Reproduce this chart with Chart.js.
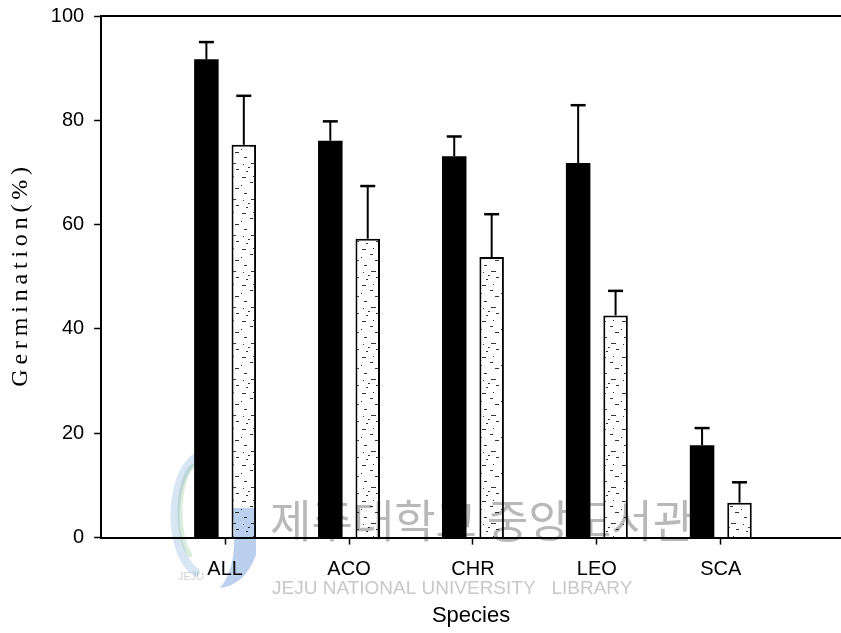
<!DOCTYPE html>
<html>
<head>
<meta charset="utf-8">
<script src="https://cdn.jsdelivr.net/npm/chart.js@4.4.0/dist/chart.umd.min.js"></script>
<style>
  html, body { margin: 0; padding: 0; background: #fff; overflow: hidden; }
  #wrap { width: 841px; height: 633px; position: relative; overflow: hidden; }
  #myChart { position: absolute; left: 0; top: -6px; }
</style>
</head>
<body>
<div id="wrap"><canvas id="myChart" width="841" height="645"></canvas></div>
<script>
// data
const species = ["ALL", "ACO", "CHR", "LEO", "SCA"];
const positions = [1, 2, 3, 4, 5];
const blackMeans = [91.7, 76.1, 73.1, 71.8, 17.7];
const blackErrors = [3.3, 3.7, 3.8, 11.1, 3.3];
const whiteMeans = [75.3, 57.3, 53.8, 42.6, 6.7];
const whiteErrors = [9.4, 10.1, 8.2, 4.7, 3.9];
const yTicks = [0, 20, 40, 60, 80, 100];

const canvas = document.getElementById("myChart");
const ctx = canvas.getContext("2d");

Chart.defaults.font.family = "'Liberation Sans', Arial, sans-serif";
Chart.defaults.color = "#000";

// dotted fill used for the open bars
function makePattern() {
  const c = document.createElement("canvas");
  c.width = 20; c.height = 36;
  const g = c.getContext("2d");
  g.fillStyle = "#fff";
  g.fillRect(0, 0, 20, 36);
  g.fillStyle = "#333";
  const dashes = [[2, 3, 4], [10, 8, 3], [15, 14, 4], [4, 19, 3], [11, 25, 5], [16, 31, 3], [6, 33, 2], [1, 11, 1], [8, 29, 2], [13, 2, 1], [3, 26, 1]];
  dashes.forEach(d => g.fillRect(d[0], d[1], d[2], 1));
  return g.createPattern(c, "repeat");
}

const errorBars = {
  id: "errorBars",
  afterDatasetsDraw(chart) {
    const c = chart.ctx;
    const y = chart.scales.y;
    c.save();
    c.strokeStyle = "#000";
    chart.data.datasets.forEach((ds, di) => {
      const meta = chart.getDatasetMeta(di);
      meta.data.forEach((bar, i) => {
        const top = y.getPixelForValue(ds.data[i].y + ds.errors[i]);
        c.lineWidth = 2;
        c.beginPath();
        c.moveTo(bar.x, bar.y);
        c.lineTo(bar.x, top);
        c.stroke();
        c.lineWidth = 2.5;
        c.beginPath();
        c.moveTo(bar.x - 7.5, top);
        c.lineTo(bar.x + 7.5, top);
        c.stroke();
      });
    });
    c.restore();
  }
};

const topFrame = {
  id: "topFrame",
  afterDraw(chart) {
    const a = chart.chartArea;
    const c = chart.ctx;
    c.save();
    c.strokeStyle = "#000";
    c.lineWidth = 2;
    c.beginPath();
    c.moveTo(a.left, a.top);
    c.lineTo(chart.width, a.top);
    c.stroke();
    c.restore();
  }
};

// library stamp over the picture (page coords, canvas is shifted up 6px)
const watermark = {
  id: "watermark",
  afterDraw(chart) {
    const c = chart.ctx;
    c.save();
    c.translate(0, 6);
    c.globalCompositeOperation = "multiply";
    c.lineCap = "round";
    c.strokeStyle = "rgba(200,220,240,0.7)";
    c.lineWidth = 9;
    c.beginPath();
    c.ellipse(205, 515, 30, 60, 0, Math.PI * 0.6, Math.PI * 1.45);
    c.stroke();
    c.strokeStyle = "rgba(205,230,210,0.7)";
    c.lineWidth = 5;
    c.beginPath();
    c.ellipse(198, 512, 18, 48, 0, Math.PI * 0.65, Math.PI * 1.4);
    c.stroke();
    c.fillStyle = "rgba(175,200,235,0.85)";
    c.beginPath();
    c.moveTo(232, 508);
    c.lineTo(256, 508);
    c.lineTo(256, 555);
    c.quadraticCurveTo(245, 585, 220, 588);
    c.quadraticCurveTo(240, 565, 232, 508);
    c.fill();
    c.fillStyle = "#d2d2d2";
    c.font = "11px 'Liberation Sans'";
    c.fillText("JEJU", 178, 580);
    c.fillStyle = "#b8b8b8";
    c.font = "45px 'Noto Sans CJK KR'";
    c.textBaseline = "alphabetic";
    c.fillText("제주대학교 중앙도서관", 270, 538);
    c.fillStyle = "#c8c8c8";
    c.font = "19px 'Liberation Sans'";
    c.fillText("JEJU NATIONAL UNIVERSITY   LIBRARY", 272, 594);
    c.restore();
  }
};

const pattern = makePattern();

const myChart = new Chart(ctx, {
  type: "bar",
  data: {
    datasets: [
      {
        label: "Black",
        data: positions.map((x, i) => ({ x: x, y: blackMeans[i] })),
        errors: blackErrors,
        backgroundColor: "#000",
        borderColor: "#000",
        borderWidth: 0,
        categoryPercentage: 0.604,
        barPercentage: 0.655
      },
      {
        label: "White",
        data: positions.map((x, i) => ({ x: x, y: whiteMeans[i] })),
        errors: whiteErrors,
        backgroundColor: pattern,
        borderColor: "#000",
        borderWidth: 2,
        borderSkipped: "bottom",
        categoryPercentage: 0.604,
        barPercentage: 0.655
      }
    ]
  },
  options: {
    responsive: false,
    animation: false,
    layout: { padding: { top: 0, right: 0, left: 0, bottom: 0 } },
    plugins: {
      legend: { display: false },
      tooltip: { enabled: false }
    },
    scales: {
      x: {
        type: "linear",
        min: 0,
        max: 5.97,
        offset: false,
        afterBuildTicks: s => { s.ticks = positions.map(v => ({ value: v })); },
        ticks: {
          autoSkip: false,
          maxRotation: 0,
          padding: 13,
          font: { size: 20 },
          callback: v => species[v - 1] || ""
        },
        grid: { display: true, offset: false, drawOnChartArea: false, tickLength: 7, tickWidth: 1.5, tickColor: "#000" },
        border: { display: true, color: "#000", width: 2 },
        title: { display: true, text: "Species", font: { size: 22 }, padding: { top: 8, bottom: 10 } }
      },
      y: {
        min: 0,
        max: 100,
        afterBuildTicks: s => { s.ticks = yTicks.map(v => ({ value: v })); },
        ticks: { padding: 10, font: { size: 20 } },
        grid: { display: true, drawOnChartArea: false, tickLength: 7, tickWidth: 1.5, tickColor: "#000" },
        border: { display: true, color: "#000", width: 2 },
        title: {
          display: true,
          text: "Germination(%)".split("").join("\u2009"),
          font: { family: "'Liberation Serif', 'Times New Roman', serif", size: 24 },
          padding: { top: 6, bottom: 6 }
        }
      }
    }
  },
  plugins: [errorBars, topFrame, watermark]
});
</script>
</body>
</html>
